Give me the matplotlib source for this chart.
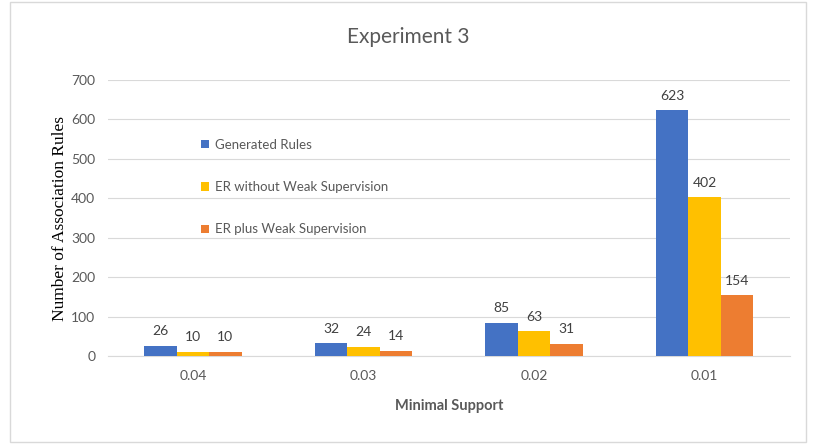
import matplotlib
matplotlib.use("Agg")
import matplotlib.pyplot as plt
import numpy as np
from matplotlib.patches import Rectangle

categories = ["0.04", "0.03", "0.02", "0.01"]
series_names = ["Generated Rules", "ER without Weak Supervision", "ER plus Weak Supervision"]
generated = [26, 32, 85, 623]
er_without = [10, 24, 63, 402]
er_plus = [10, 14, 31, 154]
colors = ["#4472C4", "#FFC000", "#ED7D31"]

plt.rcParams['font.family'] = ['Lato', 'DejaVu Sans']
fig = plt.figure(figsize=(8.16, 4.44), dpi=100)
ax = fig.add_axes([0.132, 0.198, 0.836, 0.622])

x = np.arange(len(categories))
w = 0.19
txt = "#595959"
for i, (vals, name, c) in enumerate(zip([generated, er_without, er_plus], series_names, colors)):
    pos = x + (i - 1) * w
    bars = ax.bar(pos, vals, width=w, color=c, label=name, zorder=3)
    for b, v in zip(bars, vals):
        ax.text(b.get_x() + b.get_width() / 2, v + 22, str(v), ha="center", va="bottom",
                fontsize=10, color="#404040")

ax.set_xlim(-0.5, 3.5)
ax.set_ylim(0, 700)
ax.set_yticks(range(0, 701, 100))
ax.set_xticks(x)
ax.set_xticklabels(categories)
ax.grid(axis="y", color="#D9D9D9", linewidth=0.8, zorder=0)
for s in ["top", "right", "left"]:
    ax.spines[s].set_visible(False)
ax.spines["bottom"].set_color("#D9D9D9")
ax.tick_params(axis="both", length=0, labelsize=10, colors=txt)
ax.tick_params(axis="y", pad=9)
ax.tick_params(axis="x", pad=10)

ax.set_xlabel("Minimal Support", fontsize=10.5, fontweight="bold", color=txt, labelpad=12)
ax.set_ylabel("Number of Association Rules", fontsize=12.5, family="Liberation Serif", color="#000000", labelpad=2)
fig.suptitle("Experiment 3", fontsize=15, color="#595959", y=0.94)

leg = ax.legend(loc="upper left", bbox_to_anchor=(0.12, 0.83), frameon=False, fontsize=9.5,
                labelspacing=2.3, handlelength=0.6, handleheight=0.6, handletextpad=0.4)
for t in leg.get_texts():
    t.set_color(txt)

fig.patches.append(Rectangle((0.012, 0.005), 0.976, 0.99, transform=fig.transFigure,
                             fill=False, edgecolor="#D9D9D9", linewidth=1))

fig.savefig("out.png", dpi=100)
